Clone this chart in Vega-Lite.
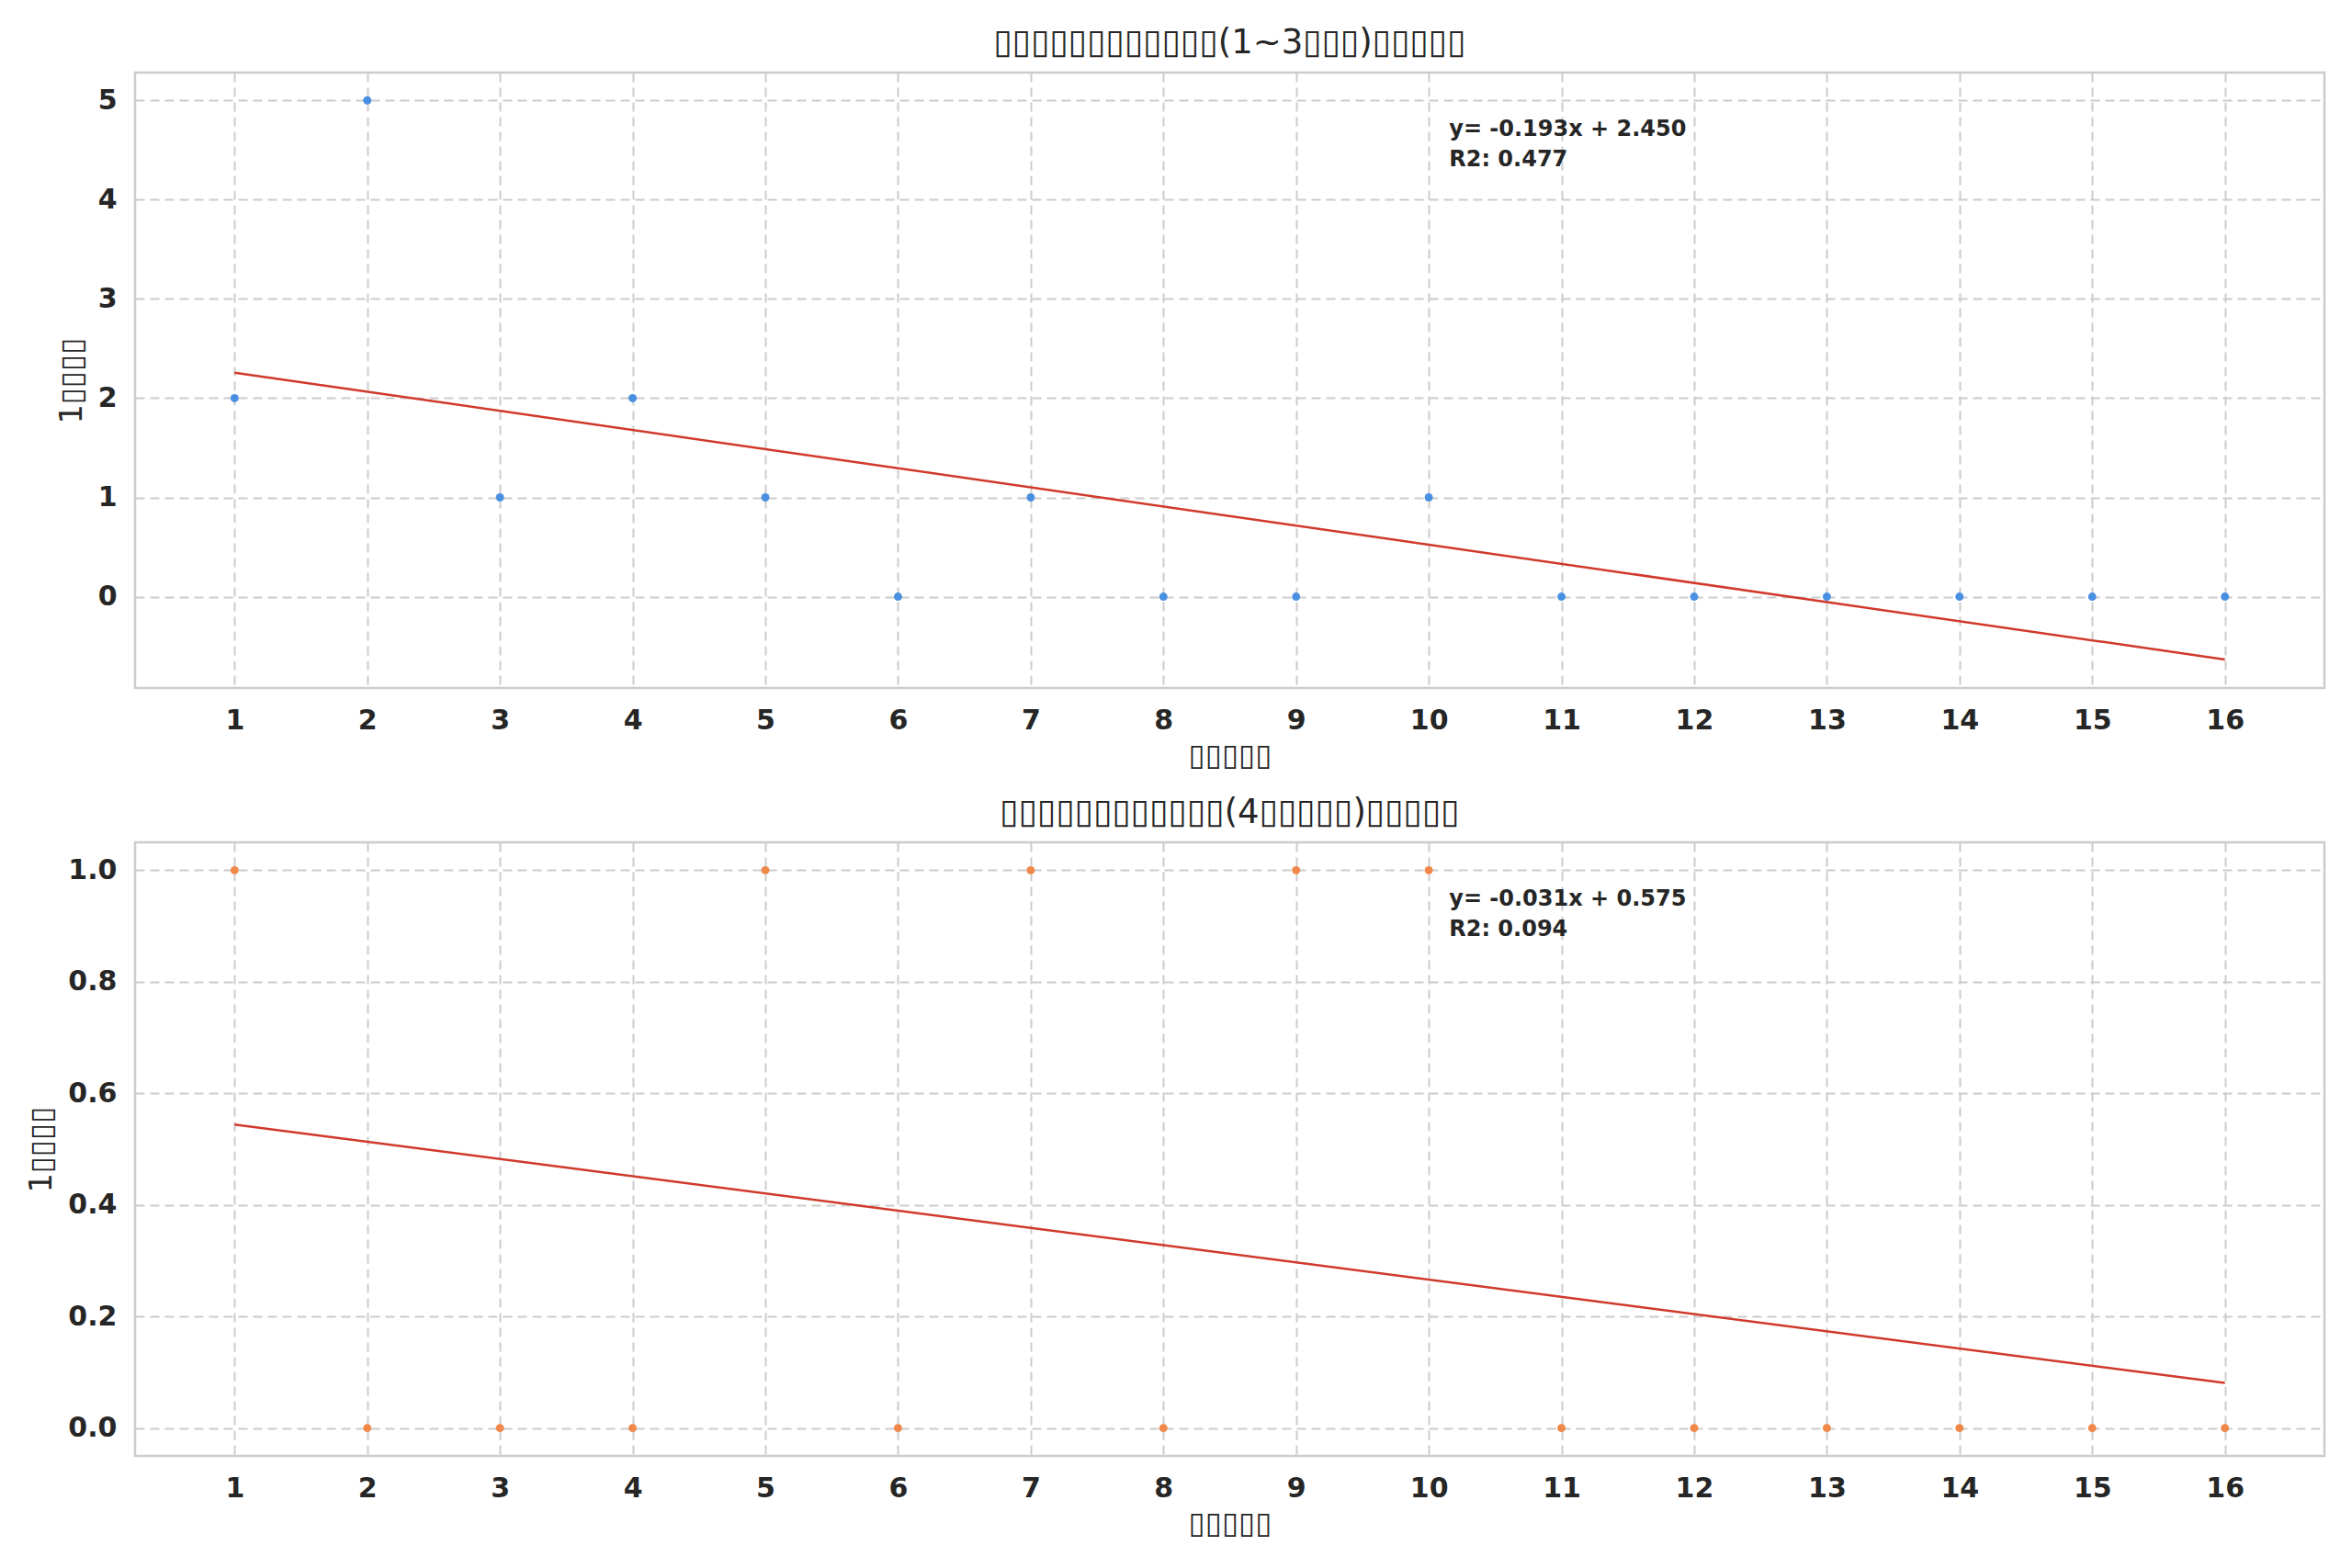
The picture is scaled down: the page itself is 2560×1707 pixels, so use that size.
{
  "$schema": "https://vega.github.io/schema/vega-lite/v6.json",
  "background": "white",
  "padding": {"left": 28, "top": 26, "right": 31, "bottom": 10},
  "config": {
    "font": "DejaVu Sans",
    "view": {"stroke": "#cccccc", "strokeWidth": 2.5},
    "axis": {
      "domain": false,
      "ticks": false,
      "grid": true,
      "gridColor": "#cccccc",
      "gridWidth": 2,
      "gridDash": [10, 6],
      "labelFont": "DejaVu Sans",
      "labelFontSize": 30,
      "labelFontWeight": "bold",
      "labelColor": "#262626",
      "labelPadding": 20,
      "titleFont": "DejaVu Sans",
      "titleFontSize": 33,
      "titleFontWeight": "normal",
      "titleColor": "#262626"
    },
    "axisX": {"titlePadding": 7},
    "axisY": {"titlePadding": 11},
    "title": {"font": "DejaVu Sans", "fontSize": 37, "fontWeight": "normal", "color": "#262626", "offset": 13},
    "concat": {"spacing": 23}
  },
  "datasets": {
    "low": [
      {"x": 1, "y": 2}, {"x": 2, "y": 5}, {"x": 3, "y": 1}, {"x": 4, "y": 2},
      {"x": 5, "y": 1}, {"x": 6, "y": 0}, {"x": 7, "y": 1}, {"x": 8, "y": 0},
      {"x": 9, "y": 0}, {"x": 10, "y": 1}, {"x": 11, "y": 0}, {"x": 12, "y": 0},
      {"x": 13, "y": 0}, {"x": 14, "y": 0}, {"x": 15, "y": 0}, {"x": 16, "y": 0}
    ],
    "high": [
      {"x": 1, "y": 1}, {"x": 2, "y": 0}, {"x": 3, "y": 0}, {"x": 4, "y": 0},
      {"x": 5, "y": 1}, {"x": 6, "y": 0}, {"x": 7, "y": 1}, {"x": 8, "y": 0},
      {"x": 9, "y": 1}, {"x": 10, "y": 1}, {"x": 11, "y": 0}, {"x": 12, "y": 0},
      {"x": 13, "y": 0}, {"x": 14, "y": 0}, {"x": 15, "y": 0}, {"x": 16, "y": 0}
    ]
  },
  "vconcat": [
    {
      "title": "▯▯▯▯▯▯▯▯▯▯▯▯(1~3▯▯▯)▯▯▯▯▯",
      "width": 2383,
      "height": 670,
      "layer": [
        {
          "data": {"name": "low"},
          "mark": {"type": "point", "filled": true, "size": 80, "color": "#4a90e2", "opacity": 1},
          "encoding": {
            "x": {
              "field": "x",
              "type": "quantitative",
              "title": "▯▯▯▯▯",
              "scale": {"domain": [0.25, 16.75], "nice": false, "zero": false},
              "axis": {"values": [1, 2, 3, 4, 5, 6, 7, 8, 9, 10, 11, 12, 13, 14, 15, 16], "format": "d"}
            },
            "y": {
              "field": "y",
              "type": "quantitative",
              "title": "1▯▯▯▯",
              "scale": {"domain": [-0.92, 5.28], "nice": false, "zero": false},
              "axis": {"values": [0, 1, 2, 3, 4, 5], "format": "d"}
            }
          }
        },
        {
          "data": {"name": "low"},
          "transform": [{"regression": "y", "on": "x", "extent": [1, 16]}],
          "mark": {"type": "line", "color": "#d0392b", "strokeWidth": 2.5},
          "encoding": {
            "x": {"field": "x", "type": "quantitative"},
            "y": {"field": "y", "type": "quantitative"}
          }
        },
        {
          "data": {"values": [{"label": "y= -0.193x + 2.450", "row": 0}, {"label": "R2: 0.477", "row": 1}]},
          "mark": {"type": "text", "align": "left", "baseline": "top", "fontSize": 24, "fontWeight": "bold", "color": "#262626"},
          "encoding": {
            "x": {"datum": 10.153, "type": "quantitative"},
            "y": {"datum": 4.82, "type": "quantitative"},
            "yOffset": {"field": "row", "type": "quantitative", "scale": {"domain": [0, 1], "range": [0, 33]}},
            "text": {"field": "label"}
          }
        }
      ]
    },
    {
      "title": "▯▯▯▯▯▯▯▯▯▯▯▯(4▯▯▯▯▯)▯▯▯▯▯",
      "width": 2383,
      "height": 668,
      "layer": [
        {
          "data": {"name": "high"},
          "mark": {"type": "point", "filled": true, "size": 80, "color": "#f0884a", "opacity": 1},
          "encoding": {
            "x": {
              "field": "x",
              "type": "quantitative",
              "title": "▯▯▯▯▯",
              "scale": {"domain": [0.25, 16.75], "nice": false, "zero": false},
              "axis": {"values": [1, 2, 3, 4, 5, 6, 7, 8, 9, 10, 11, 12, 13, 14, 15, 16], "format": "d"}
            },
            "y": {
              "field": "y",
              "type": "quantitative",
              "title": "1▯▯▯▯",
              "scale": {"domain": [-0.05, 1.05], "nice": false, "zero": false},
              "axis": {"values": [0, 0.2, 0.4, 0.6, 0.8, 1.0], "format": ".1f"}
            }
          }
        },
        {
          "data": {"name": "high"},
          "transform": [{"regression": "y", "on": "x", "extent": [1, 16]}],
          "mark": {"type": "line", "color": "#d0392b", "strokeWidth": 2.5},
          "encoding": {
            "x": {"field": "x", "type": "quantitative"},
            "y": {"field": "y", "type": "quantitative"}
          }
        },
        {
          "data": {"values": [{"label": "y= -0.031x + 0.575", "row": 0}, {"label": "R2: 0.094", "row": 1}]},
          "mark": {"type": "text", "align": "left", "baseline": "top", "fontSize": 24, "fontWeight": "bold", "color": "#262626"},
          "encoding": {
            "x": {"datum": 10.153, "type": "quantitative"},
            "y": {"datum": 0.968, "type": "quantitative"},
            "yOffset": {"field": "row", "type": "quantitative", "scale": {"domain": [0, 1], "range": [0, 33]}},
            "text": {"field": "label"}
          }
        }
      ]
    }
  ]
}
